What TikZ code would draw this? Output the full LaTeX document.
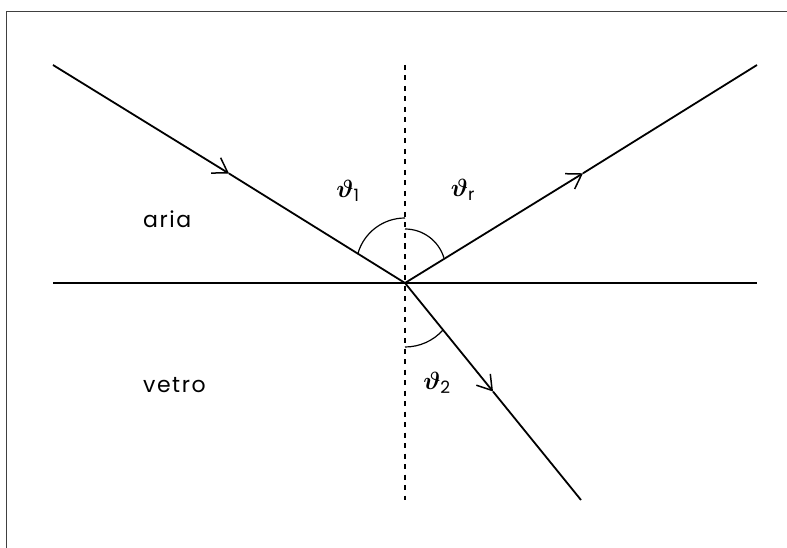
\documentclass[tikz,border=0pt]{standalone}
\usepackage{amsmath}
\usepackage{fontspec}
\setmainfont{Poppins}
\usetikzlibrary{arrows.meta}
\tikzset{
  ray/.style={line width=1.8pt},
  barb/.style={-{Straight Barb[length=14pt,width=18pt,line width=1.5pt]}},
  normalline/.style={line width=1.4pt, dash pattern=on 5pt off 5.5pt},
  anglearc/.style={line width=1.2pt},
  frameline/.style={line width=1pt, black!75},
  medium/.style={font=\fontsize{22}{26}\selectfont\addfontfeatures{LetterSpace=7}, inner sep=0pt},
  anglelabel/.style={font=\fontsize{27}{31}\selectfont, inner sep=0pt}
}
\newcommand{\thlabel}[1]{$\boldsymbol{\vartheta}_{\text{\fontsize{17}{20}\selectfont #1}}$}
\begin{document}
\begin{tikzpicture}[x=1pt,y=1pt]
\useasboundingbox (0,0) rectangle (787,-548);
% frame
\draw[frameline] (787,-11.5) -- (6.5,-11.5) -- (6.5,-548);
% points
\coordinate (O) at (405,-283);
\coordinate (A) at (53,-65);
\coordinate (R) at (757,-65);
\coordinate (T) at (581,-500);
\coordinate (L) at (53,-283);
\coordinate (E) at (757,-283);
\coordinate (N1) at (405,-65);
\coordinate (N2) at (405,-500);
\coordinate (M1) at (229,-173.5);
\coordinate (M2) at (583,-173.3);
\coordinate (M3) at (493,-391.5);
% interface and normal
\draw[ray] (L) -- (E);
\draw[normalline] (N1) -- (N2);
% incident
\draw[ray,barb] (A) -- (M1);
\draw[ray] (M1) -- (O);
% reflected
\draw[ray,barb] (O) -- (M2);
\draw[ray] (M2) -- (R);
% refracted
\draw[ray,barb] (O) -- (M3);
\draw[ray] (M3) -- (T);
% angle arcs
\draw[anglearc] (405,-218) arc[start angle=90, end angle=163.4, radius=49];
\draw[anglearc] (405,-229) arc[start angle=90, end angle=17.1, radius=40.7];
\draw[anglearc] (405,-347) arc[start angle=270, end angle=318.2, radius=51];
% labels
\node[medium, anchor=base west] (aria) at (143,-228) {aria};
\node[medium, anchor=base west] (vetro) at (143,-392) {vetro};
\node[anglelabel] (t1) at (348,-191) {\thlabel{1}};
\node[anglelabel] (tr) at (463,-190) {\thlabel{r}};
\node[anglelabel] (t2) at (437,-383) {\thlabel{2}};
\end{tikzpicture}
\end{document}
